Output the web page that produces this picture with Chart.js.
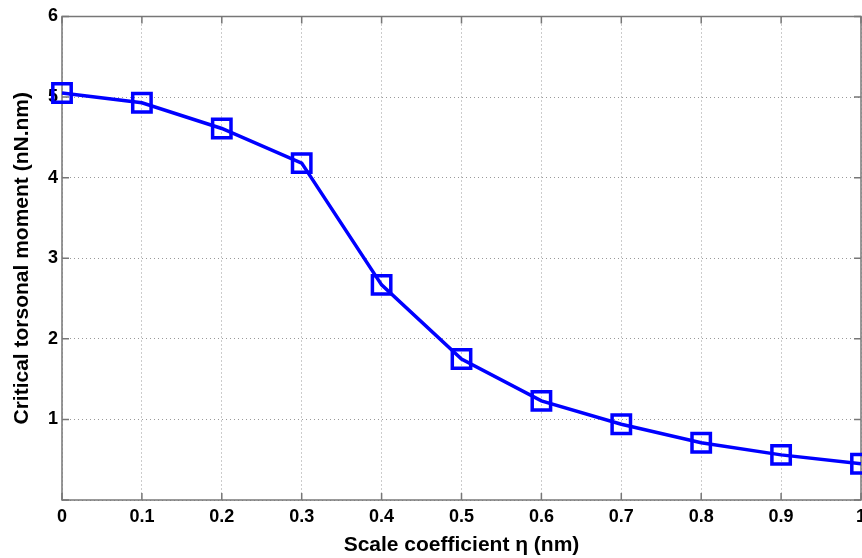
<!DOCTYPE html>
<html>
<head>
<meta charset="utf-8">
<script src="https://cdn.jsdelivr.net/npm/chart.js@4/dist/chart.umd.min.js"></script>
<style>
  html, body { margin: 0; padding: 0; background: #fff; overflow: hidden; }
  #wrap { width: 862px; height: 558px; overflow: hidden; }
  canvas { display: block; }
</style>
</head>
<body>
<div id="wrap"><canvas id="chart" width="881" height="558"></canvas></div>
<script>
// values
const scaleCoeff = [0, 0.1, 0.2, 0.3, 0.4, 0.5, 0.6, 0.7, 0.8, 0.9, 1.0]
const criticalMoment = [5.05, 4.93, 4.61, 4.18, 2.67, 1.75, 1.23, 0.94, 0.71, 0.56, 0.45]
const xTicks = [0, 0.1, 0.2, 0.3, 0.4, 0.5, 0.6, 0.7, 0.8, 0.9, 1]
const yTicks = [0, 1, 2, 3, 4, 5, 6]

const tickFont = { family: "'Liberation Sans', Arial, Helvetica, sans-serif", size: 18, weight: "bold" }
const titleFont = { family: "'Liberation Sans', Arial, Helvetica, sans-serif", size: 21, weight: "bold" }
const gridColor = "rgba(0,0,0,0.4)"
const boxColor = "#777"

// matlab-style frame with inward tick marks on all four sides
const framePlugin = {
    id: "frame",
    beforeDatasetsDraw(chart) {
        const { ctx, chartArea: a, scales: { x, y } } = chart
        ctx.save()
        ctx.strokeStyle = boxColor
        ctx.lineWidth = 1.5
        ctx.strokeRect(a.left, a.top, a.right - a.left, a.bottom - a.top)
        const len = 7
        ctx.beginPath()
        xTicks.forEach(v => {
            const px = x.getPixelForValue(v)
            ctx.moveTo(px, a.bottom); ctx.lineTo(px, a.bottom - len)
            ctx.moveTo(px, a.top); ctx.lineTo(px, a.top + len)
        })
        yTicks.forEach(v => {
            const py = y.getPixelForValue(v)
            ctx.moveTo(a.left, py); ctx.lineTo(a.left + len, py)
            ctx.moveTo(a.right, py); ctx.lineTo(a.right - len, py)
        })
        ctx.stroke()
        ctx.restore()
    }
}

new Chart(document.getElementById("chart"), {
    type: "line",
    data: {
        labels: scaleCoeff,
        datasets: [{
            data: scaleCoeff.map((v, i) => ({ x: v, y: criticalMoment[i] })),
            borderColor: "#0000ff",
            borderWidth: 3.5,
            pointStyle: "rect",
            pointRadius: 13,
            pointBorderWidth: 3.5,
            pointBorderColor: "#0000ff",
            pointBackgroundColor: "rgba(0,0,0,0)",
            tension: 0,
            clip: false,
        }]
    },
    options: {
        responsive: false,
        animation: false,
        events: [],
        layout: { padding: { top: 15, right: 20, left: 0, bottom: 0 } },
        plugins: { legend: { display: false }, tooltip: { enabled: false } },
        scales: {
            x: {
                type: "linear",
                min: 0,
                max: 1,
                afterBuildTicks: (s) => { s.ticks = xTicks.map(v => ({ value: v })) },
                afterFit: (s) => { s.height = 58 },
                ticks: {
                    color: "#000",
                    font: tickFont,
                    padding: 6,
                    maxRotation: 0,
                    autoSkip: false,
                    callback: (v) => String(Math.round(v * 10) / 10),
                },
                grid: { color: gridColor, lineWidth: 1, drawTicks: false },
                border: { display: false, dash: [1, 3] },
                title: {
                    display: true,
                    text: "Scale coefficient η (nm)",
                    color: "#000",
                    font: titleFont,
                    padding: { top: 0, bottom: 0 },
                },
            },
            y: {
                min: 0,
                max: 6,
                afterBuildTicks: (s) => { s.ticks = yTicks.map(v => ({ value: v })) },
                afterFit: (s) => { s.width = 62 },
                ticks: {
                    color: "#000",
                    font: tickFont,
                    padding: 4,
                    callback: (v) => v === 0 ? "" : String(v),
                },
                grid: { color: gridColor, lineWidth: 1, drawTicks: false },
                border: { display: false, dash: [1, 3] },
                title: {
                    display: true,
                    text: "Critical torsonal moment (nN.nm)",
                    color: "#000",
                    font: titleFont,
                    padding: { top: 10, bottom: 0 },
                },
            },
        },
    },
    plugins: [framePlugin],
})
</script>
</body>
</html>
